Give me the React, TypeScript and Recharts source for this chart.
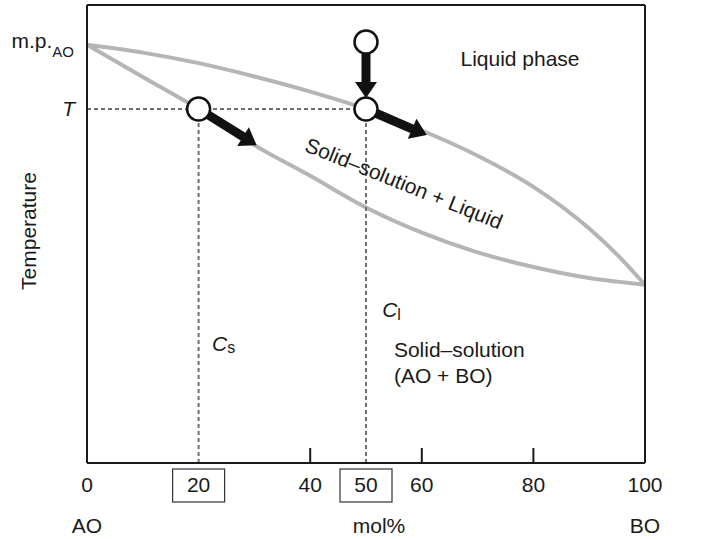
import React from 'react';
import {
  ComposedChart,
  Line,
  XAxis,
  YAxis,
  ReferenceLine,
  ReferenceDot,
} from 'recharts';

// composition in mol% BO, temperatures in arbitrary units (0 = bottom of plot, 100 = top)
const COMPOSITION = [0, 10, 20, 30, 40, 50, 60, 70, 80, 90, 95, 100];
const LIQUIDUS = [91.3, 89.6, 87.3, 84.4, 81.1, 77.3, 72.6, 67.1, 60.3, 51.2, 45.5, 38.9];
const SOLIDUS = [91.3, 84.3, 77.3, 69.4, 62.7, 55.8, 50.3, 46.0, 42.8, 40.4, 39.6, 38.9];

const MP_AO = 91.3;
const MP_BO = 38.9;
const T_LEVEL = 77.3;
const C_SOLID = 20;
const C_LIQUID = 50;
const START_TEMP = 91.9;

const X_TICKS = [0, 20, 40, 50, 60, 80, 100];
const BOXED_TICKS = [C_SOLID, C_LIQUID];
const TICK_MARKS = [40, 60, 80];
const TOP_TICKS = [20, 40, 60, 80];

const CIRCLES = [
  { x: C_LIQUID, y: START_TEMP },
  { x: C_LIQUID, y: T_LEVEL },
  { x: C_SOLID, y: T_LEVEL },
];

const ARROWS = [
  { from: { x: C_LIQUID, y: START_TEMP }, to: { x: C_LIQUID, y: 79.7 } },
  { from: { x: C_LIQUID, y: T_LEVEL }, to: { x: 60.9, y: 71.6 } },
  { from: { x: C_SOLID, y: T_LEVEL }, to: { x: 30.4, y: 69.4 } },
];

const GUIDES = [
  [{ x: 0, y: T_LEVEL }, { x: C_LIQUID, y: T_LEVEL }],
  [{ x: C_SOLID, y: T_LEVEL }, { x: C_SOLID, y: 0 }],
  [{ x: C_LIQUID, y: T_LEVEL }, { x: C_LIQUID, y: 0 }],
];

const data = COMPOSITION.map((x, i) => ({ x, liquidus: LIQUIDUS[i], solidus: SOLIDUS[i] }));

const FONT = '"Liberation Sans", Arial, Helvetica, sans-serif';
const INK = '#1a1a1a';
const CURVE = '#b5b5b5';
const R = 11.5;

const BottomTick = (props: any) => {
  const { x, y, payload } = props;
  const v = payload.value;
  const name = v === 0 ? 'AO' : v === 100 ? 'BO' : v === 50 ? 'mol%' : null;
  return (
    <g>
      {TICK_MARKS.includes(v) && (
        <line x1={x} y1={y} x2={x} y2={y - 15} stroke={INK} strokeWidth={2} />
      )}
      {BOXED_TICKS.includes(v) && (
        <rect x={x - 26} y={y + 6} width={52} height={33} fill="none" stroke="#333" strokeWidth={1.2} />
      )}
      <text x={x} y={y + 29} textAnchor="middle" fontFamily={FONT} fontSize={21} fill={INK}>
        {v}
      </text>
      {name && (
        <text x={v === 50 ? x + 13 : x} y={y + 70} textAnchor="middle" fontFamily={FONT} fontSize={21} fill={INK}>
          {name}
        </text>
      )}
    </g>
  );
};

const TopTick = (props: any) => {
  const { x, y } = props;
  return <line x1={x} y1={y} x2={x} y2={y + 15} stroke={INK} strokeWidth={2} />;
};

const LeftTick = (props: any) => {
  const { x, y, payload } = props;
  if (payload.value === T_LEVEL) {
    return (
      <text x={x - 12} y={y + 7} textAnchor="end" fontFamily={FONT} fontStyle="italic" fontSize={21} fill={INK}>
        T
      </text>
    );
  }
  return (
    <text x={x - 13} y={y + 3} textAnchor="end" fontFamily={FONT} fontSize={21} fill={INK}>
      m.p.
      <tspan fontSize={15} dy={9}>AO</tspan>
    </text>
  );
};

const RightTick = (props: any) => {
  const { x, y } = props;
  return (
    <text x={x + 14} y={y + 7} fontFamily={FONT} fontSize={21} fill={INK}>
      m.p.
      <tspan fontSize={15} dy={10}>BO</tspan>
    </text>
  );
};

const TemperatureLabel = (props: any) => {
  const { viewBox } = props;
  const cx = viewBox.x + 28;
  const cy = viewBox.y + viewBox.height / 2 - 3;
  return (
    <text
      x={cx}
      y={cy}
      textAnchor="middle"
      dominantBaseline="central"
      transform={`rotate(-90, ${cx}, ${cy})`}
      fontFamily={FONT}
      fontSize={21}
      fill={INK}
    >
      Temperature
    </text>
  );
};

const Arrow = (props: any) => {
  const { x1, y1, x2, y2 } = props;
  const len = Math.hypot(x2 - x1, y2 - y1);
  const dx = (x2 - x1) / len;
  const dy = (y2 - y1) / len;
  const nx = -dy;
  const ny = dx;
  const sx = x1 + dx * R;
  const sy = y1 + dy * R;
  const head = 16;
  const bx = x2 - dx * head;
  const by = y2 - dy * head;
  const w = 4.5;
  const hw = 11;
  const pts = [
    [sx + nx * w, sy + ny * w],
    [bx + nx * w, by + ny * w],
    [bx + nx * hw, by + ny * hw],
    [x2, y2],
    [bx - nx * hw, by - ny * hw],
    [bx - nx * w, by - ny * w],
    [sx - nx * w, sy - ny * w],
  ]
    .map((p) => p.join(','))
    .join(' ');
  return <polygon points={pts} fill="#111" />;
};

const textProps = { fontFamily: FONT, fontSize: 21, fill: INK };

const App = () => {
  return (
    <div>
      <style>{'body{margin:0}'}</style>
      <ComposedChart width={724} height={539} data={data} margin={{ top: 0, right: 0, bottom: 0, left: 0 }}>
        <XAxis
          dataKey="x"
          type="number"
          domain={[0, 100]}
          ticks={X_TICKS}
          interval={0}
          height={76}
          tickSize={0}
          tickMargin={0}
          tickLine={false}
          axisLine={{ stroke: INK, strokeWidth: 2 }}
          tick={<BottomTick />}
        />
        <XAxis
          xAxisId="top"
          orientation="top"
          type="number"
          domain={[0, 100]}
          ticks={TOP_TICKS}
          interval={0}
          height={5}
          tickSize={0}
          tickMargin={0}
          tickLine={false}
          axisLine={{ stroke: INK, strokeWidth: 2 }}
          tick={<TopTick />}
        />
        <YAxis
          type="number"
          domain={[0, 100]}
          ticks={[MP_AO, T_LEVEL]}
          interval={0}
          width={87}
          tickSize={0}
          tickMargin={0}
          tickLine={false}
          axisLine={{ stroke: INK, strokeWidth: 2 }}
          tick={<LeftTick />}
          label={(p: any) => <TemperatureLabel {...p} />}
        />
        <YAxis
          yAxisId="right"
          orientation="right"
          type="number"
          domain={[0, 100]}
          ticks={[MP_BO]}
          interval={0}
          width={79}
          tickSize={0}
          tickMargin={0}
          tickLine={false}
          axisLine={{ stroke: INK, strokeWidth: 2 }}
          tick={<RightTick />}
        />

        <Line type="monotone" dataKey="liquidus" stroke={CURVE} strokeWidth={4} dot={false} isAnimationActive={false} />
        <Line type="monotone" dataKey="solidus" stroke={CURVE} strokeWidth={4} dot={false} isAnimationActive={false} />

        {GUIDES.map((seg, i) => (
          <ReferenceLine
            key={`g-${i}`}
            segment={seg}
            stroke="#707070"
            strokeWidth={2}
            strokeDasharray="4 3"
          />
        ))}

        {ARROWS.map((a, i) => (
          <ReferenceLine key={`a-${i}`} segment={[a.from, a.to]} shape={(p: any) => <Arrow {...p} />} />
        ))}

        {CIRCLES.map((c, i) => (
          <ReferenceDot key={`c-${i}`} x={c.x} y={c.y} r={R} fill="#fff" stroke="#111" strokeWidth={2.5} />
        ))}

        <ReferenceDot
          x={77.6}
          y={86.7}
          r={0}
          shape={(p: any) => (
            <text x={p.cx} y={p.cy} textAnchor="middle" {...textProps}>
              Liquid phase
            </text>
          )}
        />
        <ReferenceDot
          x={56.8}
          y={61.1}
          r={0}
          shape={(p: any) => (
            <text
              x={p.cx}
              y={p.cy}
              textAnchor="middle"
              dominantBaseline="central"
              transform={`rotate(22, ${p.cx}, ${p.cy})`}
              {...textProps}
            >
              Solid–solution + Liquid
            </text>
          )}
        />
        <ReferenceDot
          x={22.4}
          y={24.5}
          r={0}
          shape={(p: any) => (
            <text x={p.cx} y={p.cy} {...textProps}>
              <tspan fontStyle="italic">C</tspan>
              <tspan fontSize={16} dy={2}>s</tspan>
            </text>
          )}
        />
        <ReferenceDot
          x={52.9}
          y={31.9}
          r={0}
          shape={(p: any) => (
            <text x={p.cx} y={p.cy} {...textProps}>
              <tspan fontStyle="italic">C</tspan>
              <tspan fontSize={16} dy={3}>l</tspan>
            </text>
          )}
        />
        <ReferenceDot
          x={55.0}
          y={23.1}
          r={0}
          shape={(p: any) => (
            <text x={p.cx} y={p.cy} {...textProps}>
              Solid–solution
            </text>
          )}
        />
        <ReferenceDot
          x={55.0}
          y={17.5}
          r={0}
          shape={(p: any) => (
            <text x={p.cx} y={p.cy} {...textProps}>
              (AO + BO)
            </text>
          )}
        />
      </ComposedChart>
    </div>
  );
};

export default App;
